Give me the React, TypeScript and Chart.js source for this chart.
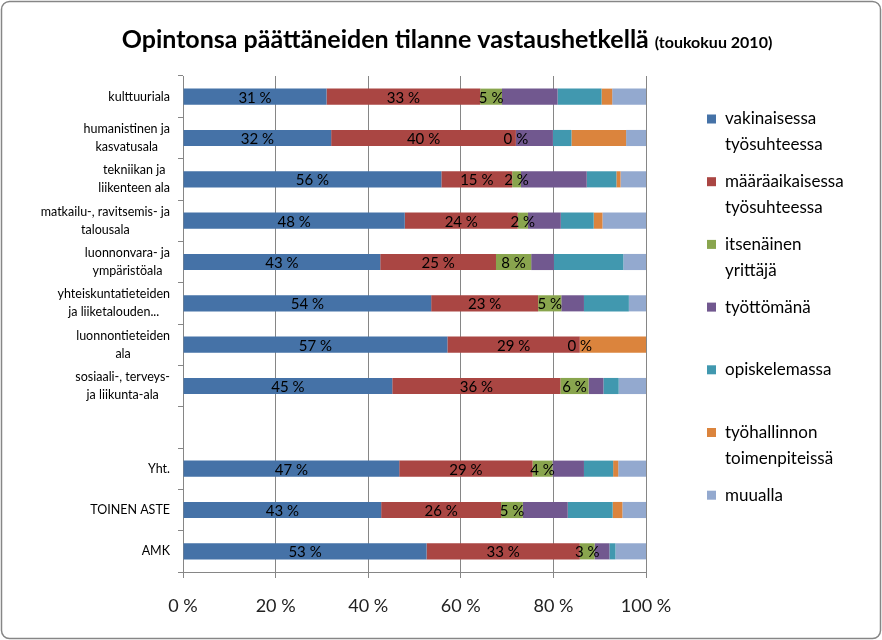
import React, { useEffect, useRef } from 'react';
import { Chart, registerables } from 'chart.js';

Chart.register(...registerables);

const FONT = 'Lato, "Open Sans", "Liberation Sans", sans-serif';

const titleMain = 'Opintonsa päättäneiden tilanne vastaushetkellä';
const titleSub = '(toukokuu 2010)';

const categories: string[][] = [
  ['kulttuuriala'],
  ['humanistinen ja', 'kasvatusala'],
  ['tekniikan ja', 'liikenteen ala'],
  ['matkailu-, ravitsemis- ja', 'talousala'],
  ['luonnonvara- ja', 'ympäristöala'],
  ['yhteiskuntatieteiden', 'ja liiketalouden...'],
  ['luonnontieteiden', 'ala'],
  ['sosiaali-, terveys-', 'ja liikunta-ala'],
  [''],
  ['Yht.'],
  ['TOINEN ASTE'],
  ['AMK'],
];

const seriesNames: string[][] = [
  ['vakinaisessa', 'työsuhteessa'],
  ['määräaikaisessa', 'työsuhteessa'],
  ['itsenäinen', 'yrittäjä'],
  ['työttömänä'],
  ['opiskelemassa'],
  ['työhallinnon', 'toimenpiteissä'],
  ['muualla'],
];

const colors = ['#4572A7', '#AA4643', '#89A54E', '#71588F', '#4198AF', '#DB843D', '#93A9CF'];

const vakinainen = [31, 32, 55.8, 47.9, 42.6, 53.6, 57.1, 45.2, null, 46.7, 42.8, 52.6];
const maaraaikainen = [33.2, 39.9, 15.3, 24.4, 25, 23.1, 28.6, 36.3, null, 28.8, 25.9, 33.1];
const yrittaja = [4.7, 0, 1.9, 2.2, 7.6, 5, 0, 6.1, null, 4.3, 4.7, 3.2];
const tyoton = [12, 8, 14.2, 7.1, 4.9, 4.9, 0, 3.2, null, 6.8, 9.7, 3.2];
const opiskelemassa = [9.5, 4, 6.4, 7.1, 15, 9.7, 0, 3.3, null, 6.3, 9.7, 1.3];
const tyohallinto = [2.3, 11.8, 0.9, 1.9, 0, 0, 14.3, 0, null, 1.1, 2.1, 0];
const muualla = [7.3, 4.3, 5.5, 9.4, 4.9, 3.7, 0, 5.9, null, 6.0, 5.1, 6.6];

const seriesValues = [vakinainen, maaraaikainen, yrittaja, tyoton, opiskelemassa, tyohallinto, muualla];
const labelledSeries = 3;

const xTicks = [0, 20, 40, 60, 80, 100];

const GRID = '#868686';

const customPlugin = {
  id: 'custom',
  beforeDraw(chart: any) {
    const ctx = chart.ctx;
    ctx.save();
    ctx.fillStyle = '#ffffff';
    ctx.fillRect(0, 0, chart.width, chart.height);
    ctx.strokeStyle = GRID;
    ctx.lineWidth = 1.5;
    ctx.beginPath();
    (ctx as any).roundRect(1.5, 1.5, chart.width - 3, chart.height - 3, 8);
    ctx.stroke();
    ctx.restore();
  },
  afterDatasetsDraw(chart: any) {
    const ctx = chart.ctx;
    ctx.save();
    ctx.font = `15px ${FONT}`;
    ctx.fillStyle = '#000';
    ctx.textAlign = 'center';
    ctx.textBaseline = 'middle';
    for (let d = 0; d < labelledSeries; d++) {
      const meta = chart.getDatasetMeta(d);
      meta.data.forEach((el: any, j: number) => {
        const v = seriesValues[d][j];
        if (v === null || v === undefined) return;
        const cx = (el.x + el.base) / 2;
        ctx.fillText(`${Math.round(v)} %`, cx, el.y + 1);
      });
    }
    ctx.restore();
  },
  afterDraw(chart: any) {
    const ctx = chart.ctx;
    ctx.save();
    // Title
    const mainFont = `bold 25px ${FONT}`;
    const subFont = `bold 16px ${FONT}`;
    ctx.font = mainFont;
    const wMain = ctx.measureText(titleMain).width;
    ctx.font = subFont;
    const wSub = ctx.measureText(titleSub).width;
    const gap = 6;
    const total = wMain + gap + wSub;
    const startX = 447 - total / 2;
    ctx.fillStyle = '#000';
    ctx.textBaseline = 'alphabetic';
    ctx.textAlign = 'left';
    ctx.font = mainFont;
    ctx.fillText(titleMain, startX, 48);
    ctx.font = subFont;
    ctx.fillText(titleSub, startX + wMain + gap, 48);

    // Category labels
    const yScale = chart.scales.y;
    ctx.font = `12.5px ${FONT}`;
    ctx.textAlign = 'center';
    ctx.textBaseline = 'middle';
    const rightEdge = yScale.right - 13;
    categories.forEach((lines, j) => {
      const cy = yScale.getPixelForValue(j);
      const maxW = Math.max(...lines.map((l) => ctx.measureText(l).width));
      const cx = rightEdge - maxW / 2;
      const lh = 18;
      lines.forEach((l, k) => {
        ctx.fillText(l, cx, cy - ((lines.length - 1) * lh) / 2 + k * lh);
      });
    });

    // Legend
    ctx.font = `17px ${FONT}`;
    ctx.textAlign = 'left';
    ctx.textBaseline = 'middle';
    const legX = chart.chartArea.right + 61;
    seriesNames.forEach((lines, i) => {
      const y0 = 119 + i * 62.7;
      ctx.fillStyle = colors[i];
      ctx.fillRect(legX, y0 - 4.5, 9, 9);
      ctx.fillStyle = '#000';
      lines.forEach((l, k) => {
        ctx.fillText(l, legX + 18, y0 + k * 26);
      });
    });
    ctx.restore();
  },
};

export default function App() {
  const ref = useRef<HTMLCanvasElement | null>(null);
  useEffect(() => {
    if (!ref.current) return;
    const chart = new Chart(ref.current, {
      type: 'bar',
      data: {
        labels: categories.map((c) => c.join(' ')),
        datasets: seriesValues.map((vals, i) => ({
          label: seriesNames[i].join(' '),
          data: vals as any,
          backgroundColor: colors[i],
          borderWidth: 0,
          barPercentage: 0.39,
          categoryPercentage: 1,
        })),
      },
      options: {
        indexAxis: 'y',
        responsive: false,
        animation: false,
        events: [],
        layout: { padding: { top: 76, right: 236, bottom: 0, left: 0 } },
        plugins: {
          legend: { display: false },
          title: { display: false },
          tooltip: { enabled: false },
        },
        scales: {
          x: {
            stacked: true,
            min: 0,
            max: 100,
            afterFit: (s: any) => {
              s.height = 68;
            },
            afterBuildTicks: (s: any) => {
              s.ticks = xTicks.map((v) => ({ value: v }));
            },
            ticks: {
              callback: (v: any) => `${v} %`,
              font: { family: FONT, size: 18 },
              color: '#222',
              padding: 17,
              maxRotation: 0,
            },
            grid: { color: GRID, lineWidth: 1, tickLength: 6, drawOnChartArea: true },
            border: { display: true, color: GRID, width: 1 },
          },
          y: {
            stacked: true,
            afterFit: (s: any) => {
              s.width = 183;
            },
            ticks: { display: false },
            grid: { color: GRID, lineWidth: 1, tickLength: 5, drawOnChartArea: false, offset: true },
            border: { display: true, color: GRID, width: 1 },
          },
        },
      },
      plugins: [customPlugin],
    });
    return () => chart.destroy();
  }, []);
  return (
    <div style={{ position: 'fixed', left: 0, top: 0, width: 882, height: 640 }}>
      <canvas ref={ref} width={882} height={640} style={{ display: 'block' }} />
    </div>
  );
}
